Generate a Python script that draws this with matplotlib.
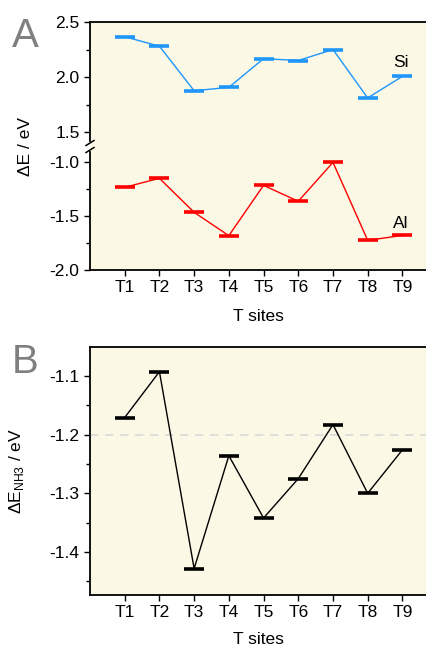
import matplotlib
matplotlib.use('Agg')
import matplotlib.pyplot as plt
from matplotlib.ticker import MultipleLocator

plt.rcParams['font.family'] = ['Liberation Sans', 'DejaVu Sans']
plt.rcParams['mathtext.fontset'] = 'custom'
plt.rcParams['mathtext.rm'] = 'Liberation Sans'

SITES = ['T1', 'T2', 'T3', 'T4', 'T5', 'T6', 'T7', 'T8', 'T9']
SI_DE = [2.366, 2.28, 1.875, 1.906, 2.167, 2.15, 2.25, 1.81, 2.006]
AL_DE = [-1.234, -1.151, -1.466, -1.682, -1.216, -1.364, -1.003, -1.725, -1.68]
NH3_DE = [-1.171, -1.093, -1.428, -1.236, -1.342, -1.275, -1.183, -1.300, -1.226]

BG = '#fbf8e6'
SI_COLOR = '#1e96fa'
AL_COLOR = '#ff0000'
FS = 12.5

W, H = 426, 645
fig = plt.figure(figsize=(W / 100, H / 100), dpi=100)

left = 90 / W
right = 1.0
xpos = list(range(1, len(SITES) + 1))


def px_box(top_px, bot_px):
    return [left, 1 - bot_px / H, right - left, (bot_px - top_px) / H]


def style(ax):
    ax.set_facecolor(BG)
    ax.set_xlim(0, 9.68)
    ax.tick_params(axis='both', which='both', direction='out', labelsize=FS, width=1)
    ax.tick_params(which='major', length=4)
    ax.tick_params(which='minor', length=3)
    for s in ax.spines.values():
        s.set_linewidth(1.3)
    ax.spines['right'].set_visible(False)


def levels(ax, vals, color):
    ax.plot(xpos, vals, color=color, lw=1.0, zorder=2)
    ax.plot(xpos, vals, ls='none', marker='_', markersize=15,
            markeredgewidth=2.6, color=color, zorder=3)


# Panel A (broken y axis)
ax_top = fig.add_axes(px_box(22, 147))
ax_bot = fig.add_axes(px_box(147, 270))
for ax in (ax_top, ax_bot):
    style(ax)

levels(ax_top, SI_DE, SI_COLOR)
ax_top.set_ylim(1.364, 2.5)
ax_top.yaxis.set_major_locator(MultipleLocator(0.5))
ax_top.yaxis.set_minor_locator(MultipleLocator(0.25))
ax_top.yaxis.set_major_formatter(lambda v, p: f'{v:.1f}')
ax_top.spines['bottom'].set_visible(False)
ax_top.set_xticks([])
ax_top.text(8.95, 2.13, 'Si', fontsize=FS, ha='center', va='center')

levels(ax_bot, AL_DE, AL_COLOR)
ax_bot.set_ylim(-2.0, -0.861)
ax_bot.yaxis.set_major_locator(MultipleLocator(0.5))
ax_bot.yaxis.set_minor_locator(MultipleLocator(0.25))
ax_bot.yaxis.set_major_formatter(lambda v, p: f'{v:.1f}')
ax_bot.spines['top'].set_visible(False)
ax_bot.set_xticks(xpos)
ax_bot.set_xticklabels(SITES)
ax_bot.set_xlabel('T sites', fontsize=FS, labelpad=10)
ax_bot.text(8.95, -1.565, 'Al', fontsize=FS, ha='center', va='center')

# break marks on the left spine
ax_top.spines['left'].set_bounds(1.42, 2.5)
ax_bot.spines['left'].set_bounds(-2.0, -0.91)
for dy in (-4, 3):
    y0 = 1 - (147 + dy) / H
    fig.add_artist(plt.Line2D([left - 4 / W, left + 4 / W],
                              [y0 - 2.5 / H, y0 + 2.5 / H],
                              color='black', lw=1.1))

fig.text(26 / W, 1 - 146 / H, 'ΔE / eV', rotation=90, fontsize=FS,
         ha='center', va='center')

# Panel B
ax_b = fig.add_axes(px_box(347, 595))
style(ax_b)
ax_b.axhline(-1.2, color='#d9d9d9', lw=1.2, ls=(0, (5, 4)), zorder=1)
levels(ax_b, NH3_DE, 'black')
ax_b.set_ylim(-1.473, -1.051)
ax_b.yaxis.set_major_locator(MultipleLocator(0.1))
ax_b.yaxis.set_minor_locator(MultipleLocator(0.05))
ax_b.yaxis.set_major_formatter(lambda v, p: f'{v:.1f}')
ax_b.set_xticks(xpos)
ax_b.set_xticklabels(SITES)
ax_b.set_xlabel('T sites', fontsize=FS, labelpad=8)
ax_b.set_ylabel(r'ΔE$_{\mathregular{NH3}}$ / eV', fontsize=FS)
ax_b.yaxis.set_label_coords(-(90 - 26) / (W - 90), 0.5)

fig.text(12 / W, 1 - 17 / H, 'A', fontsize=29, color='#808080', va='top', ha='left')
fig.text(12 / W, 1 - 343 / H, 'B', fontsize=29, color='#808080', va='top', ha='left')

fig.savefig('out.png', dpi=100)
